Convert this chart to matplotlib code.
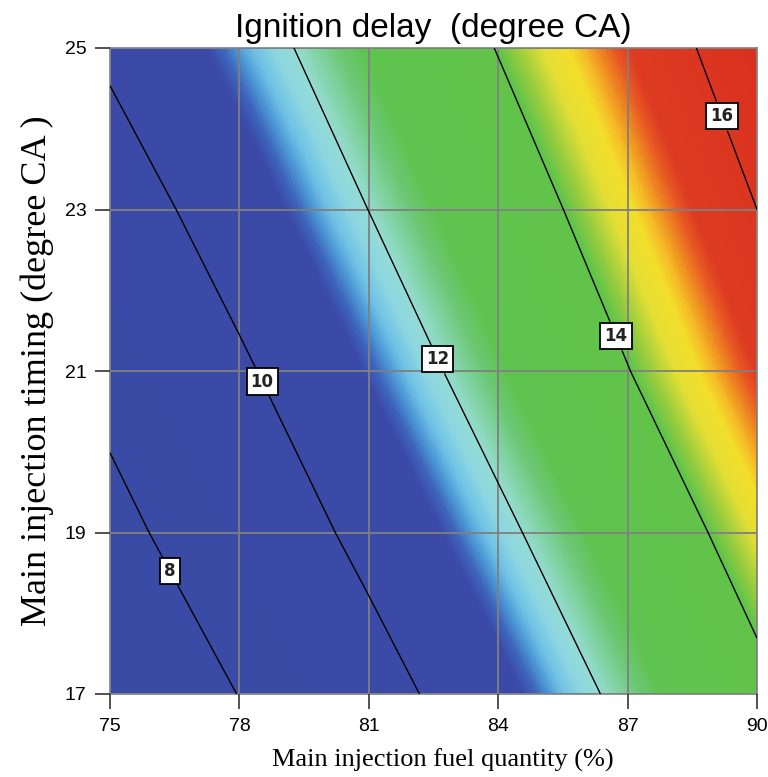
import numpy as np
import matplotlib.pyplot as plt
from matplotlib.colors import LinearSegmentedColormap, Normalize

# fuel quantity (%) and injection timing (degree CA) of the grid nodes
fuel_qty = [75, 78, 81, 84, 87, 90]
inj_timing = [17, 19, 21, 23, 25]
delay = [
    [6.62, 8.03, 9.44, 10.87, 12.30, 13.72],
    [7.58, 8.97, 10.36, 11.74, 13.13, 14.53],
    [8.43, 9.81, 11.20, 12.59, 13.97, 15.35],
    [9.31, 10.66, 12.01, 13.33, 14.66, 16.00],
    [10.21, 11.46, 12.74, 14.04, 15.32, 16.60],
]
contour_levels = [8, 10, 12, 14, 16]
xticks = [75, 78, 81, 84, 87, 90]
yticks = [17, 19, 21, 23, 25]

# colour ramp (value -> colour), a la Design-Expert
vmin, vmax = 6.5, 16.7
nodes = [
    (6.5, '#3a4ca6'), (11.15, '#3c4aa6'), (11.3, '#3e66bc'),
    (11.45, '#4c98d6'), (11.6, '#6fc0e4'), (11.8, '#8cd6e2'),
    (12.0, '#96dcd4'), (12.2, '#84d4a8'), (12.45, '#6cc874'),
    (12.7, '#5fc350'), (14.05, '#62c44a'), (14.25, '#9ccd3e'),
    (14.5, '#e4df34'), (14.75, '#f4de2c'), (14.9, '#f6b826'),
    (15.05, '#ee8a22'), (15.2, '#e85a22'), (15.35, '#de3c22'),
    (16.7, '#d9301f'),
]
cmap = LinearSegmentedColormap.from_list(
    'dx', [((v - vmin) / (vmax - vmin), c) for v, c in nodes])
norm = Normalize(vmin=vmin, vmax=vmax)

Z = np.array(delay)
dx = fuel_qty[1] - fuel_qty[0]
dy = inj_timing[1] - inj_timing[0]

fig = plt.figure(figsize=(7.68, 7.77), dpi=100)
ax = fig.add_axes([110 / 768, 83 / 777, 647 / 768, 646 / 777])

# image with pixel centres on the grid nodes, cropped by the axis limits
ax.imshow(Z, origin='lower', cmap=cmap, norm=norm, aspect='auto',
          interpolation='bilinear',
          extent=(fuel_qty[0] - dx / 2, fuel_qty[-1] + dx / 2,
                  inj_timing[0] - dy / 2, inj_timing[-1] + dy / 2))

cs = ax.contour(fuel_qty, inj_timing, Z, levels=contour_levels,
                colors='black', linewidths=1.0, zorder=3)
label_pos = [(76.5, 18.56), (78.6, 20.89), (82.65, 21.16),
             (86.8, 21.45), (89.2, 24.16)]
labels = ax.clabel(cs, fmt='%d', manual=label_pos, inline=True,
                   inline_spacing=2, fontsize=12)
for t in labels:
    t.set_rotation(0)
    t.set_fontweight('bold')
    t.set_color('#222222')
    t.set_zorder(5)
    t.set_bbox(dict(facecolor='white', edgecolor='black', linewidth=1.3,
                    boxstyle='square,pad=0.25'))

ax.set_xlim(75, 90)
ax.set_ylim(17, 25)
ax.set_xticks(xticks)
ax.set_yticks(yticks)
ax.grid(True, color='#808080', linewidth=1.3)
ax.set_axisbelow(False)
for s in ax.spines.values():
    s.set_color('#808080')
    s.set_linewidth(1.2)
ax.tick_params(direction='out', length=11, width=1.2, color='#333333',
               pad=6, labelsize=14)
for lab in ax.get_xticklabels() + ax.get_yticklabels():
    lab.set_family('Liberation Sans')

ax.set_title('Ignition delay  (degree CA)', family='Liberation Sans',
             fontsize=24, pad=8)
ax.set_xlabel('Main injection fuel quantity (%)', family='Liberation Serif',
              fontsize=19, labelpad=10)
ax.xaxis.label.set_x(0.515)
ax.set_ylabel('Main injection timing (degree CA )', family='Liberation Serif',
              fontsize=26, labelpad=8)

fig.savefig('out.png', dpi=100)
